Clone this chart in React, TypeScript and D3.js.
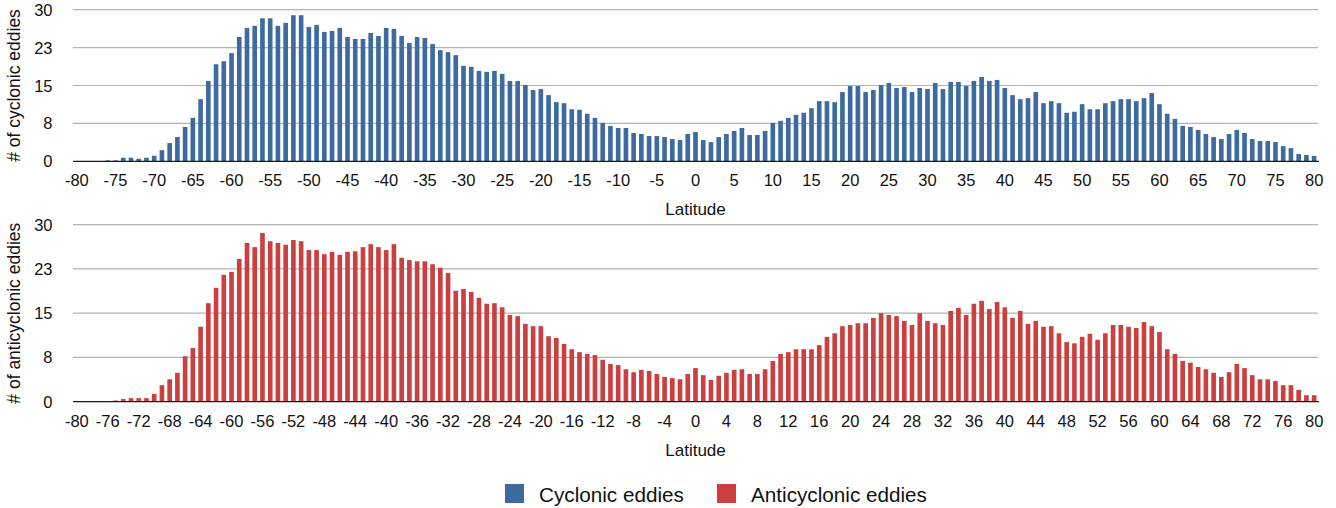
import React from "react";
import * as d3 from "d3";

const latitudes: number[] = d3.range(-80, 81);

const cyclonic: number[] = [
  0, 0, 0, 0, 0.2, 0.2, 0.7, 0.7, 0.5, 0.7,
  1.1, 2.2, 3.6, 4.8, 6.8, 8.6, 12.3, 15.9, 19.2, 19.8,
  21.4, 24.6, 26.4, 26.8, 28.3, 28.3, 26.8, 27.4, 28.9, 28.9,
  26.6, 27.0, 25.6, 25.8, 26.4, 24.6, 24.2, 24.2, 25.4, 24.8,
  26.4, 26.2, 24.8, 23.4, 24.6, 24.4, 23.2, 22.0, 21.6, 21.0,
  18.9, 18.7, 17.9, 17.7, 17.9, 17.3, 15.9, 15.9, 15.1, 14.1,
  14.3, 13.1, 11.7, 11.5, 10.3, 10.2, 9.4, 8.6, 7.6, 7.0,
  6.6, 6.6, 5.6, 5.4, 5.0, 5.0, 4.8, 4.4, 4.2, 5.4,
  5.8, 4.2, 3.8, 4.8, 5.4, 6.0, 6.6, 5.2, 5.2, 6.0,
  7.6, 8.0, 8.6, 9.2, 9.6, 10.5, 11.9, 11.9, 11.7, 13.7,
  14.9, 14.9, 13.7, 14.1, 15.1, 15.5, 14.5, 14.7, 13.7, 14.5,
  14.3, 15.5, 14.3, 15.7, 15.7, 14.9, 15.9, 16.7, 15.9, 16.1,
  14.5, 13.1, 12.3, 12.5, 13.7, 11.5, 11.9, 11.5, 9.6, 9.8,
  11.3, 10.3, 10.3, 11.5, 11.9, 12.3, 12.3, 11.9, 12.5, 13.5,
  11.3, 9.4, 8.4, 7.0, 6.8, 6.2, 5.4, 4.8, 4.4, 5.4,
  6.2, 5.6, 4.4, 4.0, 4.0, 3.8, 3.0, 2.6, 1.45, 1.25,
  1.05,
];

const anticyclonic: number[] = [
  0, 0, 0, 0.1, 0.1, 0.2, 0.45, 0.6, 0.6, 0.6,
  1.3, 2.8, 3.8, 4.9, 7.7, 9.1, 12.7, 16.7, 19.3, 21.5,
  22.0, 24.2, 26.9, 26.2, 28.6, 27.2, 26.9, 26.6, 27.4, 27.2,
  25.7, 25.7, 25.0, 25.4, 24.9, 25.4, 25.5, 26.2, 26.7, 26.2,
  25.7, 26.7, 24.4, 24.0, 23.8, 23.8, 23.3, 22.7, 21.8, 18.8,
  19.1, 18.6, 17.6, 16.6, 16.7, 16.0, 14.7, 14.5, 13.2, 12.8,
  12.8, 11.1, 10.8, 9.8, 8.9, 8.4, 8.1, 7.9, 7.1, 6.4,
  6.2, 5.5, 5.0, 5.4, 5.2, 4.7, 4.2, 4.0, 3.8, 4.7,
  5.7, 4.5, 3.7, 4.4, 4.9, 5.4, 5.5, 4.7, 4.7, 5.5,
  6.9, 8.1, 8.4, 8.9, 8.9, 8.9, 9.6, 11.0, 11.6, 12.8,
  13.0, 13.3, 13.3, 14.2, 15.0, 14.7, 14.5, 13.7, 13.0, 15.0,
  13.7, 13.3, 13.0, 15.4, 15.9, 14.7, 16.6, 17.1, 15.7, 16.9,
  16.0, 14.2, 15.4, 13.2, 13.7, 12.7, 12.8, 11.6, 10.1, 9.9,
  11.0, 11.5, 10.5, 11.6, 13.0, 13.0, 12.7, 12.5, 13.5, 12.8,
  11.8, 8.9, 8.1, 6.9, 6.6, 5.9, 5.5, 4.9, 4.2, 5.0,
  6.4, 5.7, 4.5, 3.8, 3.8, 3.5, 2.8, 2.8, 2.0, 1.1,
  1.1,
];

const yTicks: number[] = [0, 7.5, 15, 22.5, 30];
const topXTicks: number[] = d3.range(-80, 81, 5);
const bottomXTicks: number[] = d3.range(-80, 81, 4);

const seriesNames = ["Cyclonic eddies", "Anticyclonic eddies"];
const yTitles = ["# of cyclonic eddies", "# of anticyclonic eddies"];
const xTitle = "Latitude";
const colors = ["#3d6b9f", "#cb403e"];

const FONT = "'Liberation Sans', Arial, Helvetica, sans-serif";

const x = d3
  .scaleBand<number>()
  .domain(latitudes)
  .range([73, 1318])
  .paddingInner(0.4)
  .paddingOuter(0.2);

type PanelProps = {
  values: number[];
  color: string;
  top: number;
  bottom: number;
  xTicks: number[];
  yTitle: string;
  tickBaseline: number;
  titleBaseline: number;
};

function Panel({ values, color, top, bottom, xTicks, yTitle, tickBaseline, titleBaseline }: PanelProps) {
  const y = d3.scaleLinear().domain([0, 30]).range([bottom, top]);
  const [x0, x1] = x.range();
  const bw = x.bandwidth();
  return (
    <g>
      {yTicks.map((t) =>
        t === 0 ? null : (
          <line key={"g" + t} x1={x0} x2={x1} y1={y(t)} y2={y(t)} stroke="#b3b3b3" strokeWidth={1.2} />
        )
      )}
      {yTicks.map((t) => (
        <text
          key={"yl" + t}
          x={52.5}
          y={y(t)}
          textAnchor="end"
          dominantBaseline="central"
          fontFamily={FONT}
          fontSize={16.5}
          fill="#111"
        >
          {Math.round(t)}
        </text>
      ))}
      {latitudes.map((lat, i) => {
        const v = values[i];
        if (!v) return null;
        return (
          <rect
            key={"b" + lat}
            x={x(lat)!}
            y={y(v)}
            width={bw}
            height={y(0) - y(v)}
            fill={color}
          />
        );
      })}
      <line x1={x0} x2={x1 + 1} y1={y(0)} y2={y(0)} stroke="#1a1a1a" strokeWidth={1.2} />
      {xTicks.map((t) => (
        <text
          key={"xl" + t}
          x={x(t)! + bw / 2}
          y={tickBaseline}
          textAnchor="middle"
          fontFamily={FONT}
          fontSize={16.5}
          fill="#111"
        >
          {t}
        </text>
      ))}
      <text
        x={(x0 + x1) / 2}
        y={titleBaseline}
        textAnchor="middle"
        fontFamily={FONT}
        fontSize={17}
        fill="#111"
      >
        {xTitle}
      </text>
      <text
        transform={`translate(19.5, ${(top + bottom) / 2}) rotate(-90)`}
        textAnchor="middle"
        fontFamily={FONT}
        fontSize={17.5}
        fill="#111"
      >
        {yTitle}
      </text>
    </g>
  );
}

export default function App() {
  return (
    <svg
      width={1336}
      height={508}
      style={{ position: "absolute", left: 0, top: 0, background: "#fff" }}
    >
      <rect x={0} y={0} width={1336} height={508} fill="#fff" />
      <Panel
        values={cyclonic}
        color={colors[0]}
        top={9.7}
        bottom={161.3}
        xTicks={topXTicks}
        yTitle={yTitles[0]}
        tickBaseline={185.5}
        titleBaseline={215}
      />
      <Panel
        values={anticyclonic}
        color={colors[1]}
        top={224.7}
        bottom={401.7}
        xTicks={bottomXTicks}
        yTitle={yTitles[1]}
        tickBaseline={426.7}
        titleBaseline={455.7}
      />
      <g>
        <rect x={505} y={484} width={19} height={19} fill={colors[0]} />
        <text x={539} y={502} fontFamily={FONT} fontSize={20.7} fill="#111">
          {seriesNames[0]}
        </text>
        <rect x={717} y={484} width={19} height={19} fill={colors[1]} />
        <text x={751} y={502} fontFamily={FONT} fontSize={20.7} fill="#111">
          {seriesNames[1]}
        </text>
      </g>
    </svg>
  );
}
